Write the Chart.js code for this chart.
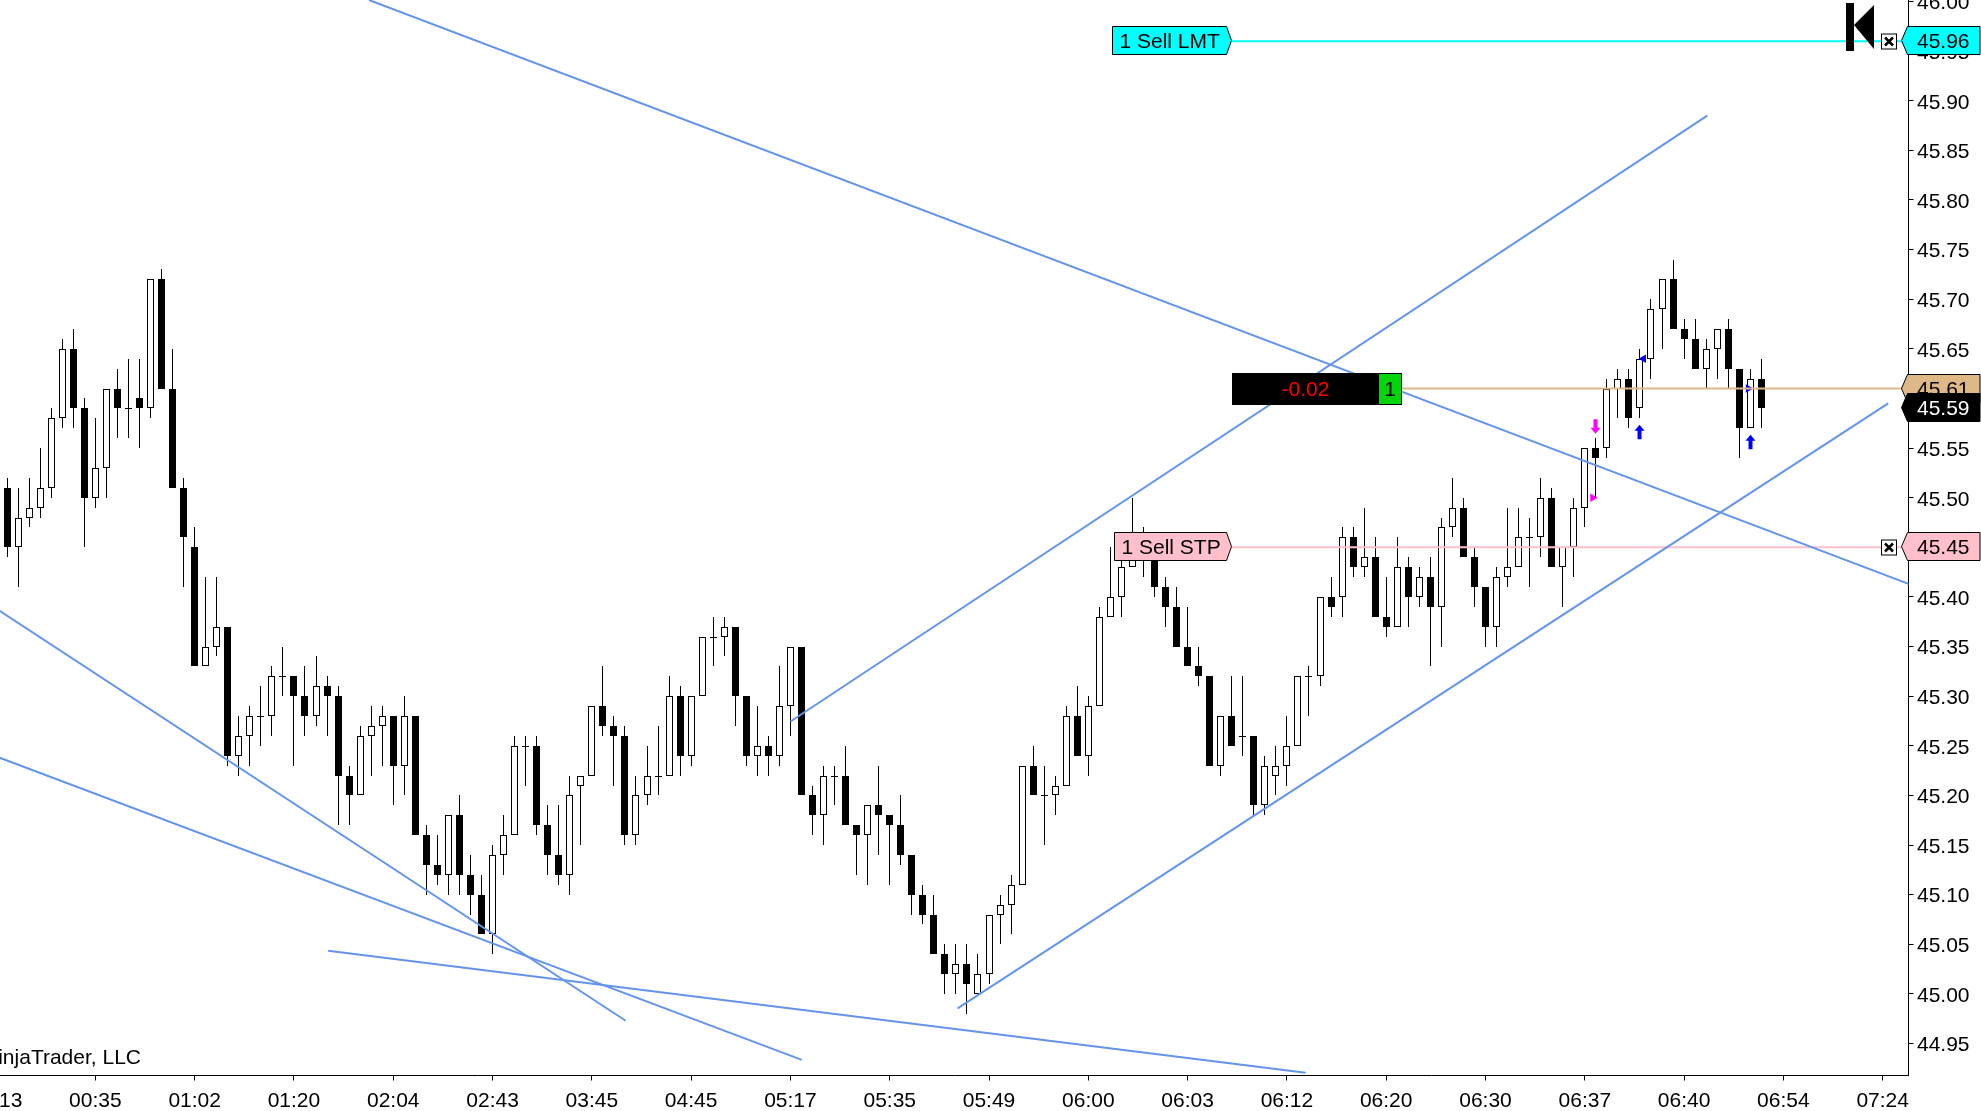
<!DOCTYPE html>
<html>
<head>
<meta charset="utf-8">
<title>NinjaTrader chart</title>
<script src="https://cdn.jsdelivr.net/npm/chart.js@4"></script>
<style>
    html, body { margin: 0; padding: 0; background: #fff; overflow: hidden; }
    canvas { display: block; }
</style>
</head>
<body>
<canvas id="priceChart" width="1981" height="1111"></canvas>
<script>
// --- Candles, one entry per bar ---
const opens = [
    45.51,45.45,45.48,45.49,45.51,45.58,45.65,45.59,45.50,45.53,
    45.61,45.59,45.60,45.59,45.72,45.61,45.51,45.45,45.33,45.35,
    45.37,45.24,45.26,45.28,45.28,45.32,45.32,45.30,45.28,45.31,
    45.30,45.22,45.20,45.26,45.27,45.28,45.23,45.28,45.16,45.13,
    45.12,45.18,45.12,45.10,45.06,45.14,45.16,45.25,45.25,45.17,
    45.14,45.12,45.21,45.22,45.29,45.27,45.26,45.16,45.20,45.22,
    45.22,45.30,45.24,45.30,45.36,45.36,45.37,45.30,45.24,45.25,
    45.24,45.29,45.35,45.20,45.18,45.22,45.22,45.17,45.16,45.19,
    45.18,45.17,45.14,45.10,45.08,45.04,45.02,45.03,45.00,45.02,
    45.08,45.09,45.11,45.23,45.20,45.20,45.21,45.28,45.24,45.29,
    45.38,45.40,45.43,45.44,45.44,45.41,45.39,45.35,45.33,45.32,
    45.23,45.28,45.26,45.26,45.19,45.22,45.23,45.25,45.32,45.32,
    45.40,45.40,45.46,45.43,45.44,45.38,45.37,45.43,45.40,45.42,
    45.39,45.47,45.49,45.44,45.41,45.37,45.42,45.43,45.46,45.46,
    45.50,45.43,45.45,45.49,45.55,45.55,45.61,45.62,45.59,45.64,
    45.69,45.72,45.67,45.66,45.63,45.65,45.67,45.63,45.57,45.62
];
const highs = [
    45.52,45.51,45.52,45.55,45.59,45.66,45.67,45.60,45.58,45.61,
    45.63,45.64,45.64,45.72,45.73,45.65,45.52,45.47,45.42,45.42,
    45.37,45.28,45.29,45.31,45.33,45.35,45.32,45.33,45.34,45.32,
    45.31,45.23,45.27,45.29,45.29,45.28,45.30,45.28,45.17,45.16,
    45.18,45.20,45.14,45.12,45.15,45.18,45.26,45.26,45.26,45.19,
    45.19,45.22,45.22,45.29,45.33,45.28,45.27,45.22,45.25,45.27,
    45.32,45.31,45.30,45.36,45.38,45.38,45.37,45.30,45.29,45.26,
    45.33,45.35,45.35,45.21,45.23,45.23,45.25,45.17,45.19,45.23,
    45.18,45.20,45.14,45.11,45.10,45.05,45.05,45.05,45.04,45.08,
    45.10,45.12,45.23,45.25,45.23,45.22,45.29,45.31,45.30,45.39,
    45.45,45.46,45.50,45.47,45.44,45.42,45.41,45.39,45.35,45.32,
    45.28,45.32,45.32,45.26,45.24,45.25,45.28,45.32,45.33,45.40,
    45.42,45.47,45.47,45.49,45.46,45.42,45.46,45.44,45.43,45.44,
    45.48,45.52,45.50,45.45,45.41,45.43,45.49,45.49,45.48,45.52,
    45.51,45.45,45.50,45.55,45.56,45.62,45.63,45.63,45.65,45.70,
    45.72,45.74,45.68,45.68,45.66,45.67,45.68,45.63,45.63,45.64
];
const lows = [
    45.44,45.41,45.47,45.48,45.50,45.57,45.57,45.45,45.49,45.50,
    45.56,45.56,45.55,45.58,45.61,45.51,45.41,45.33,45.33,45.34,
    45.23,45.22,45.23,45.25,45.26,45.30,45.23,45.26,45.27,45.26,
    45.17,45.17,45.20,45.22,45.23,45.19,45.20,45.16,45.10,45.11,
    45.10,45.10,45.08,45.06,45.04,45.12,45.16,45.21,45.16,45.12,
    45.11,45.10,45.15,45.22,45.26,45.21,45.15,45.15,45.19,45.20,
    45.22,45.22,45.23,45.30,45.33,45.34,45.27,45.23,45.22,45.22,
    45.23,45.26,45.20,45.16,45.15,45.19,45.17,45.12,45.11,45.14,
    45.11,45.13,45.08,45.07,45.04,45.00,45.00,44.98,45.00,45.01,
    45.05,45.06,45.11,45.20,45.15,45.18,45.21,45.24,45.22,45.29,
    45.38,45.38,45.43,45.42,45.40,45.37,45.35,45.33,45.31,45.23,
    45.22,45.25,45.24,45.18,45.18,45.20,45.21,45.25,45.28,45.31,
    45.38,45.38,45.42,45.42,45.38,45.36,45.37,45.37,45.39,45.33,
    45.35,45.46,45.44,45.39,45.35,45.35,45.41,45.43,45.41,45.44,
    45.43,45.39,45.42,45.47,45.50,45.54,45.58,45.57,45.58,45.62,
    45.65,45.67,45.64,45.63,45.61,45.62,45.61,45.54,45.57,45.57
];
const closes = [
    45.45,45.48,45.49,45.51,45.58,45.65,45.59,45.50,45.53,45.61,
    45.59,45.59,45.59,45.72,45.61,45.51,45.46,45.33,45.35,45.37,
    45.24,45.26,45.28,45.28,45.32,45.32,45.30,45.28,45.31,45.30,
    45.22,45.20,45.26,45.27,45.28,45.23,45.28,45.16,45.13,45.12,
    45.18,45.12,45.10,45.06,45.14,45.16,45.25,45.25,45.17,45.14,
    45.12,45.20,45.22,45.29,45.27,45.26,45.16,45.20,45.22,45.22,
    45.30,45.24,45.30,45.36,45.36,45.37,45.30,45.24,45.25,45.24,
    45.29,45.35,45.20,45.18,45.22,45.22,45.17,45.16,45.19,45.18,
    45.17,45.14,45.10,45.08,45.04,45.02,45.03,45.01,45.02,45.08,
    45.09,45.11,45.23,45.20,45.20,45.21,45.28,45.24,45.29,45.38,
    45.40,45.43,45.44,45.44,45.41,45.39,45.35,45.33,45.32,45.23,
    45.28,45.25,45.26,45.19,45.23,45.23,45.25,45.32,45.32,45.40,
    45.39,45.46,45.43,45.44,45.38,45.37,45.43,45.40,45.42,45.39,
    45.47,45.49,45.44,45.41,45.37,45.42,45.43,45.46,45.46,45.50,
    45.43,45.45,45.49,45.55,45.54,45.61,45.62,45.58,45.64,45.69,
    45.72,45.67,45.66,45.63,45.65,45.67,45.63,45.57,45.62,45.59
];

// --- Axes ---
const xTickBars = [-1,8,17,26,35,44,53,62,71,80,89,98,107,116,125,134,143,152,161,170];
const xTickLabels = ['00:13','00:35','01:02','01:20','02:04','02:43','03:45','04:45','05:17','05:35',
    '05:49','06:00','06:03','06:12','06:20','06:30','06:37','06:40','06:54','07:24'];
const yTickValues = [44.95,45.00,45.05,45.10,45.15,45.20,45.25,45.30,45.35,45.40,45.45,
    45.50,45.55,45.60,45.65,45.70,45.75,45.80,45.85,45.90,45.95,46.00];

// --- Drawn trend lines: [bar, price, bar, price] ---
const trendLines = [
    [32.8, 46.0015, 172.4, 45.413],
    [71.0, 45.2745, 154.1, 45.885],
    [86.15, 44.9855, 170.5, 45.595],
    [-0.68, 45.386, 56.07, 44.973],
    [-0.68, 45.238, 72.03, 44.9335],
    [29.1, 45.0435, 117.7, 44.9205]
];

// --- Orders and position ---
const limitPrice = 45.96;
const stopPrice = 45.45;
const entryPrice = 45.61;
const lastPrice = 45.59;
const positionSize = '1';
const positionPnl = '-0.02';
const limitLabel = '1 Sell LMT';
const stopLabel = '1 Sell STP';

// --- Executions and signals: bar, price ---
const sellArrows = [[144, 45.5645]];
const buyArrows = [[148, 45.5735], [158, 45.5635]];
const sellMarks = [[143.72, 45.50]];
const buyLeftMarks = [[148.32, 45.64]];
const buyRightMarks = [[157.82, 45.61]];

const FONT = '"Liberation Sans", Arial, sans-serif';
const FONT_SIZE = 21;
const BLUE = '#6495ED';
const barIndex = opens.map((_, i) => i);
const dojiBars = barIndex.filter(i => opens[i] === closes[i]);
const bodyBars = barIndex.filter(i => opens[i] !== closes[i]);
const toPoints = pairs => pairs.map(p => ({ x: p[0], y: p[1] }));

function lineSet(points, color, width) {
    return { type: 'line', data: points, borderColor: color, borderWidth: width, pointRadius: 0, order: 0, parsing: false };
}
function markSet(points, color, rotation) {
    return {
        type: 'line', data: toPoints(points), showLine: false, order: 0, parsing: false,
        pointStyle: 'triangle', pointRotation: rotation, pointRadius: 5,
        pointBackgroundColor: color, pointBorderColor: color, pointBorderWidth: 0
    };
}

const datasets = [
    // wicks under the bodies
    {
        type: 'bar', order: 3, grouped: false, barPercentage: 1, maxBarThickness: 1,
        backgroundColor: '#000', borderWidth: 0,
        data: barIndex.map(i => ({ x: i, y: [lows[i], highs[i]] }))
    },
    {
        type: 'bar', order: 2, grouped: false, barPercentage: 1, maxBarThickness: 7,
        backgroundColor: bodyBars.map(i => closes[i] > opens[i] ? '#fff' : '#000'),
        borderColor: '#000', borderWidth: 1, borderSkipped: false,
        data: bodyBars.map(i => ({ x: i, y: [Math.min(opens[i], closes[i]), Math.max(opens[i], closes[i])] }))
    },
    {
        type: 'line', order: 2, showLine: false, parsing: false,
        pointStyle: 'line', pointRadius: 3.5, pointBorderColor: '#000', pointBorderWidth: 1,
        data: dojiBars.map(i => ({ x: i, y: closes[i] }))
    }
];
trendLines.forEach(t => datasets.push(lineSet([{ x: t[0], y: t[1] }, { x: t[2], y: t[3] }], BLUE, 2)));
datasets.push(lineSet([{ x: 111.0, y: limitPrice }, { x: 172.4, y: limitPrice }], '#00FFFF', 2));
datasets.push(lineSet([{ x: 111.0, y: stopPrice }, { x: 172.4, y: stopPrice }], '#FFC0CB', 2));
datasets.push(lineSet([{ x: 126.4, y: entryPrice }, { x: 172.4, y: entryPrice }], '#DEB887', 2));
datasets.push(markSet(sellMarks, '#FF00FF', 90));
datasets.push(markSet(buyLeftMarks, '#0000FF', -90));
datasets.push(markSet(buyRightMarks, '#0000FF', 90));

// keep candles on whole pixels so they stay sharp like the original
const snapPlugin = {
    id: 'snapBars',
    afterDatasetsUpdate(chart) {
        chart.getSortedVisibleDatasetMetas().forEach(meta => {
            if (meta.type === 'bar') {
                meta.data.forEach(el => {
                    el.x = Math.floor(el.x) + 0.5;
                    el.y = Math.round(el.y);
                    el.base = Math.round(el.base);
                });
            } else if (meta.index === 2) {
                meta.data.forEach(el => {
                    el.x = Math.floor(el.x) + 0.5;
                    el.y = Math.round(el.y) + 0.5;
                });
            }
        });
    }
};

function poly(ctx, pts, fill, stroke) {
    ctx.beginPath();
    pts.forEach((p, i) => i ? ctx.lineTo(p[0], p[1]) : ctx.moveTo(p[0], p[1]));
    ctx.closePath();
    ctx.fillStyle = fill;
    ctx.fill();
    if (stroke) {
        ctx.strokeStyle = stroke;
        ctx.lineWidth = 1;
        ctx.stroke();
    }
}

function label(ctx, text, x, y, color, align) {
    ctx.font = FONT_SIZE + 'px ' + FONT;
    ctx.fillStyle = color;
    ctx.textAlign = align || 'left';
    ctx.textBaseline = 'middle';
    ctx.fillText(text, x, y);
}

// order flag in the plot: box with a point on the right
function orderFlag(ctx, text, left, y, color) {
    const top = Math.round(y) - 14.5, bot = top + 28, right = 1226.5;
    poly(ctx, [[left, top], [right, top], [1231.5, top + 14], [right, bot], [left, bot]], color, '#000');
    label(ctx, text, left + 7, top + 15.5, '#000');
}

// price tag on the axis: point on the left
function priceTag(ctx, text, y, color, textColor) {
    const top = Math.round(y) - 14.5, bot = top + 28;
    poly(ctx, [[1901.5, top + 14], [1907.5, top], [1980, top], [1980, bot], [1907.5, bot]], color, '#000');
    label(ctx, text, 1917, top + 15.5, textColor);
}

function closeBox(ctx, y) {
    const cy = Math.round(y) + 0.5, cx = 1889;
    ctx.fillStyle = '#fff';
    ctx.strokeStyle = '#000';
    ctx.lineWidth = 1;
    ctx.fillRect(cx - 7.5, cy - 7.5, 15, 15);
    ctx.strokeRect(cx - 7.5, cy - 7.5, 15, 15);
    ctx.lineWidth = 2.5;
    ctx.beginPath();
    ctx.moveTo(cx - 4, cy - 4); ctx.lineTo(cx + 4, cy + 4);
    ctx.moveTo(cx + 4, cy - 4); ctx.lineTo(cx - 4, cy + 4);
    ctx.stroke();
}

// dir is 1 when the arrow points up, -1 when it points down; y is the tip
function arrow(ctx, x, y, dir, color) {
    const h = 14.5, head = 6;
    poly(ctx, [
        [x, y], [x + 5, y + dir * head], [x + 2, y + dir * head], [x + 2, y + dir * h],
        [x - 2, y + dir * h], [x - 2, y + dir * head], [x - 5, y + dir * head]
    ], color);
}

// price labels sit a little under their tick marks in the original
const priceLabelPlugin = {
    id: 'priceLabels',
    beforeDatasetsDraw(chart) {
        const ctx = chart.ctx;
        const ys = chart.scales.y;
        ctx.save();
        yTickValues.forEach(v => label(ctx, v.toFixed(2), 1917, ys.getPixelForValue(v) + 2, '#000'));
        ctx.restore();
    }
};

const overlayPlugin = {
    id: 'orderOverlay',
    afterDatasetsDraw(chart) {
        const ctx = chart.ctx;
        const xs = chart.scales.x, ys = chart.scales.y;
        ctx.save();

        sellArrows.forEach(a => arrow(ctx, Math.floor(xs.getPixelForValue(a[0])) + 0.5, ys.getPixelForValue(a[1]), -1, '#FF00FF'));
        buyArrows.forEach(a => arrow(ctx, Math.floor(xs.getPixelForValue(a[0])) + 0.5, ys.getPixelForValue(a[1]), 1, '#0000FF'));

        const limitY = ys.getPixelForValue(limitPrice);
        const stopY = ys.getPixelForValue(stopPrice);
        const entryY = ys.getPixelForValue(entryPrice);
        const lastY = ys.getPixelForValue(lastPrice);

        orderFlag(ctx, limitLabel, 1112.5, limitY, '#00FFFF');
        orderFlag(ctx, stopLabel, 1114.5, stopY, '#FFC0CB');

        // position box
        const boxTop = Math.round(entryY) - 16;
        ctx.fillStyle = '#000';
        ctx.fillRect(1232, boxTop, 170, 32);
        ctx.fillStyle = '#00D60A';
        ctx.fillRect(1379, boxTop + 1, 22, 30);
        label(ctx, positionPnl, 1305.5, boxTop + 17, '#FF0000', 'center');
        label(ctx, positionSize, 1390, boxTop + 17, '#000', 'center');

        // jump to last bar icon
        ctx.fillStyle = '#000';
        ctx.fillRect(1846, 3, 8, 48);
        poly(ctx, [[1854, 25], [1874, 5], [1874, 49]], '#000');

        closeBox(ctx, limitY);
        closeBox(ctx, stopY);

        priceTag(ctx, limitPrice.toFixed(2), limitY, '#00FFFF', '#000');
        priceTag(ctx, stopPrice.toFixed(2), stopY, '#FFC0CB', '#000');
        priceTag(ctx, entryPrice.toFixed(2), entryY, '#DEB887', '#000');
        priceTag(ctx, lastPrice.toFixed(2), lastY, '#000', '#fff');

        label(ctx, 'NinjaTrader, LLC', 141, 1058, '#000', 'right');
        ctx.restore();
    }
};

const ctxPrice = document.getElementById('priceChart').getContext('2d');
new Chart(ctxPrice, {
    data: { datasets: datasets },
    plugins: [snapPlugin, priceLabelPlugin, overlayPlugin],
    options: {
        responsive: false,
        animation: false,
        devicePixelRatio: 1,
        // the plot runs right up to the page edges
        layout: { padding: 0, autoPadding: false },
        plugins: { legend: { display: false }, tooltip: { enabled: false } },
        scales: {
            x: {
                type: 'linear',
                offset: false,
                min: -0.6435,
                max: 172.34,
                grid: { offset: false, drawOnChartArea: false, drawTicks: true, tickLength: 5, tickColor: '#000' },
                border: { color: '#000', width: 1 },
                afterBuildTicks: scale => { scale.ticks = xTickBars.map(v => ({ value: v })); },
                // no label margins: the first label is cut by the page edge in the original
                afterFit: scale => { scale.height = 35.5; scale.paddingLeft = 0; scale.paddingRight = 0; },
                ticks: {
                    autoSkip: false, maxRotation: 0, minRotation: 0, padding: 8, color: '#000',
                    font: { family: FONT, size: FONT_SIZE },
                    callback: (value, index) => xTickLabels[index]
                }
            },
            y: {
                type: 'linear',
                position: 'right',
                min: 44.9178,
                max: 46.0015,
                grid: { drawOnChartArea: false, drawTicks: true, tickLength: 5, tickColor: '#000' },
                border: { color: '#000', width: 1 },
                afterBuildTicks: scale => { scale.ticks = yTickValues.map(v => ({ value: v })); },
                afterFit: scale => { scale.width = 72.5; scale.paddingTop = 0; scale.paddingBottom = 0; },
                ticks: { display: false }
            }
        }
    }
});
</script>
</body>
</html>
